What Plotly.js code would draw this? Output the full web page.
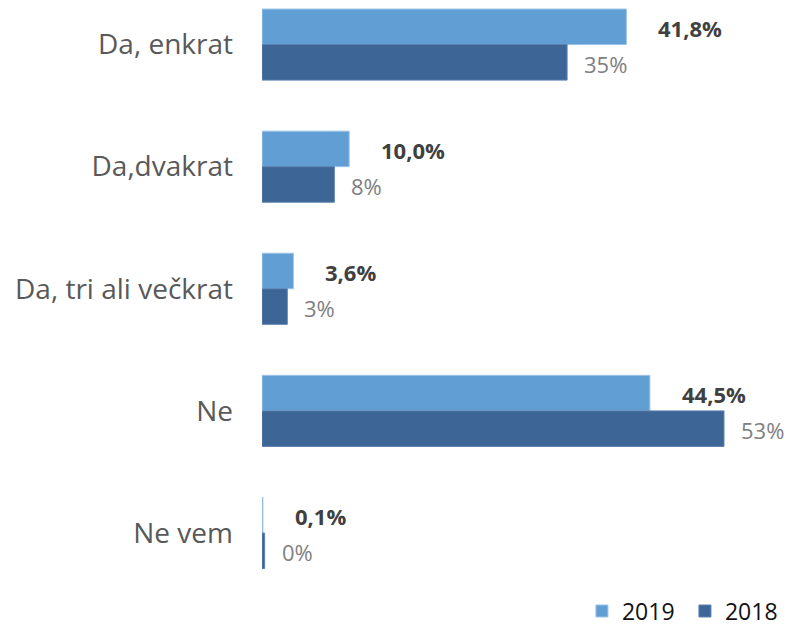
<!DOCTYPE html>
<html>
<head>
<meta charset="utf-8">
<script src="https://cdn.plot.ly/plotly-3.0.1.min.js"></script>
<style>html,body{margin:0;padding:0;background:#fff;}#chart{width:795px;height:628px;}</style>
</head>
<body>
<div id="chart"></div>
<script>
const categories = ["Da, enkrat", "Da,dvakrat", "Da, tri ali večkrat", "Ne", "Ne vem"];
const values2019 = [41.8, 10.0, 3.6, 44.5, 0.1];
const values2018 = [35, 8.3, 2.9, 53, 0.3];
const seriesNames = ["2019", "2018"];

const FONT = "Open Sans, sans-serif";

const trace2019 = {
  type: "bar", orientation: "h", name: seriesNames[0],
  y: categories, x: values2019,
  marker: {color: "#609ED3", line: {color: "#9CC3E8", width: 1}},
  hoverinfo: "none"
};
const trace2018 = {
  type: "bar", orientation: "h", name: seriesNames[1],
  y: categories, x: values2018,
  marker: {color: "#3D6596", line: {color: "#5A80B0", width: 1}},
  hoverinfo: "none"
};

const annotations = [];
categories.forEach((c, i) => {
  annotations.push({
    x: values2019[i], y: c, xref: "x", yref: "y",
    text: values2019[i].toFixed(1).replace(".", ",") + "%",
    showarrow: false, xanchor: "left", yanchor: "middle",
    xshift: 30, yshift: 17,
    font: {family: FONT, size: 22, color: "#404040", weight: "bold"}
  });
  annotations.push({
    x: values2018[i], y: c, xref: "x", yref: "y",
    text: Math.round(values2018[i]) + "%",
    showarrow: false, xanchor: "left", yanchor: "middle",
    xshift: 15, yshift: -19,
    font: {family: FONT, size: 22, color: "#808080"}
  });
});

const layout = {
  width: 795, height: 628,
  margin: {l: 262, r: 10, t: 0, b: 47},
  paper_bgcolor: "#fff", plot_bgcolor: "#fff",
  barmode: "group", bargap: 0.418, bargroupgap: 0,
  font: {family: FONT},
  xaxis: {range: [0, 60], showgrid: false, zeroline: false, showticklabels: false, showline: false, fixedrange: true},
  yaxis: {
    type: "category", range: [4.393, -0.365], showgrid: false, zeroline: false, showline: false,
    ticks: "", ticklabelstandoff: 28,
    tickfont: {family: FONT, size: 28, color: "#595959"}
  },
  legend: {
    orientation: "h", xref: "container", yref: "container",
    x: 0.732, xanchor: "left", y: 0.027, yanchor: "middle",
    traceorder: "normal", entrywidth: 58, entrywidthmode: "pixels",
    font: {family: FONT, size: 23, color: "#111"},
    bgcolor: "rgba(0,0,0,0)"
  },
  annotations: annotations,
  showlegend: true
};

Plotly.newPlot("chart", [trace2019, trace2018], layout, {displayModeBar: false, staticPlot: true});
</script>
</body>
</html>
